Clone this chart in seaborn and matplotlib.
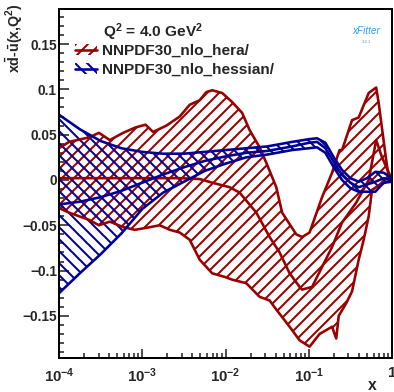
import numpy as np
import pandas as pd
import matplotlib
matplotlib.use("Agg")
import matplotlib.pyplot as plt
import seaborn as sns
from matplotlib.patches import Patch
from matplotlib.lines import Line2D
from matplotlib.ticker import FixedLocator, LogLocator, NullFormatter, MultipleLocator

# ---------------- data ----------------
# NNPDF30_nlo_hera band: upper edge, lower edge, central line (log10 x, value)
hera_up_logx = [-4.00, -3.88, -3.64, -3.52, -3.39, -3.23, -3.08, -2.96, -2.87, -2.71,
                -2.55, -2.43, -2.31, -2.23, -2.16, -2.04, -1.92, -1.80, -1.71, -1.59,
                -1.51, -1.39, -1.32, -1.15, -1.08, -0.99, -0.84, -0.72, -0.63, -0.60,
                -0.48, -0.40, -0.28, -0.19, -0.16, -0.07, -0.04, 0.00]
hera_up = [0.035, 0.042, 0.047, 0.052, 0.044, 0.052, 0.058, 0.061, 0.053, 0.060,
           0.070, 0.083, 0.088, 0.097, 0.099, 0.096, 0.086, 0.074, 0.055, 0.036,
           0.019, -0.008, -0.036, -0.060, -0.063, -0.058, -0.019, 0.008, 0.033, 0.033,
           0.066, 0.069, 0.096, 0.102, 0.085, 0.022, 0.003, 0.000]

hera_lo_logx = [-4.00, -3.88, -3.64, -3.52, -3.39, -3.23, -3.09, -2.96, -2.79, -2.67,
                -2.55, -2.43, -2.31, -2.16, -2.01, -1.92, -1.75, -1.59, -1.47, -1.39,
                -1.23, -1.11, -0.99, -0.87, -0.72, -0.67, -0.64, -0.55, -0.48, -0.40,
                -0.34, -0.28, -0.24, -0.16, -0.04, 0.00]
hera_lo = [-0.031, -0.036, -0.044, -0.050, -0.046, -0.052, -0.055, -0.053, -0.050, -0.055,
           -0.058, -0.066, -0.088, -0.103, -0.107, -0.110, -0.114, -0.129, -0.133, -0.143,
           -0.162, -0.177, -0.184, -0.170, -0.162, -0.175, -0.150, -0.136, -0.123, -0.088,
           -0.066, -0.040, -0.011, -0.006, -0.001, 0.000]

hera_c_logx = [-4.00, -3.50, -3.00, -2.55, -2.31, -2.16, -1.95, -1.83, -1.63, -1.47,
               -1.35, -1.23, -1.11, -1.08, -0.96, -0.84, -0.72, -0.60, -0.43, -0.28,
               -0.19, -0.12, 0.00]
hera_c = [0.002, 0.002, 0.002, 0.002, 0.001, -0.003, -0.008, -0.014, -0.036, -0.063,
          -0.080, -0.103, -0.118, -0.121, -0.118, -0.096, -0.074, -0.047, -0.025, 0.000,
          0.044, 0.025, 0.000]

# NNPDF30_nlo_hessian band
hess_logx = [-4.00, -3.75, -3.50, -3.25, -3.00, -2.75, -2.50, -2.25, -2.00, -1.75,
             -1.50, -1.20, -1.00, -0.90, -0.80, -0.70, -0.60, -0.50, -0.40, -0.30,
             -0.20, -0.10, 0.00]
hess_up = [0.072, 0.056, 0.043, 0.035, 0.031, 0.029, 0.029, 0.031, 0.033, 0.035,
           0.037, 0.042, 0.045, 0.046, 0.041, 0.025, 0.011, 0.002, -0.002, 0.002,
           0.009, 0.008, 0.002]
hess_c = [-0.027, -0.024, -0.019, -0.012, -0.003, 0.006, 0.014, 0.021, 0.026, 0.030,
          0.032, 0.037, 0.041, 0.042, 0.035, 0.020, 0.0055, -0.003, -0.008, -0.005,
          -0.002, 0.002, 0.000]
hess_lo = [-0.125, -0.103, -0.082, -0.059, -0.032, -0.014, -0.002, 0.010, 0.018, 0.025,
           0.028, 0.033, 0.035, 0.036, 0.030, 0.014, 0.000, -0.009, -0.013, -0.013,
           -0.013, -0.003, -0.002]

x_ticks = [1e-4, 1e-3, 1e-2, 1e-1, 1.0]
x_ticklabels = [r"$10^{-4}$", r"$10^{-3}$", r"$10^{-2}$", r"$10^{-1}$", "1"]
y_ticks = [-0.15, -0.1, -0.05, 0.0, 0.05, 0.1, 0.15]
y_ticklabels = ["\u22120.15", "\u22120.1", "\u22120.05", "0", "0.05", "0.1", "0.15"]
series_labels = ["NNPDF30_nlo_hera/", "NNPDF30_nlo_hessian/"]
header_text = r"Q$^{2}$ = 4.0 GeV$^{2}$"
ylabel_text = r"x$\bar{\mathrm{d}}$-$\bar{\mathrm{u}}$(x,Q$^{2}$)"
xlabel_text = "x"

RED = "#990000"
BLUE = "#000099"

# ---------------- figure ----------------
DPI = 72
W, H = 394, 392
PT = 72.0 / DPI  # points per pixel

sns.set_theme(style="ticks")
plt.rcParams.update({
    "font.family": ["Liberation Sans", "DejaVu Sans"],
    "font.weight": "bold",
    "mathtext.fontset": "custom",
    "mathtext.rm": "Liberation Sans:bold",
    "mathtext.it": "Liberation Sans:bold",
    "mathtext.bf": "Liberation Sans:bold",
    "mathtext.sf": "Liberation Sans:bold",
    "hatch.linewidth": 2.0 * PT,
    "axes.linewidth": 2.0 * PT,
    "axes.edgecolor": "black",
    "xtick.direction": "in",
    "ytick.direction": "in",
})

fig = plt.figure(figsize=(W / DPI, H / DPI), dpi=DPI)
fig.patch.set_facecolor("white")
L, R, T, B = 59, 392, 9, 358
ax = fig.add_axes([L / W, 1 - B / H, (R - L) / W, (B - T) / H])
ax.set_facecolor("white")

RED_HATCH = "//"
BLUE_HATCH = "\\\\"


def band(logx_up, up, logx_lo, lo, color, hatch):
    xu = 10 ** np.asarray(logx_up)
    xl = 10 ** np.asarray(logx_lo)
    ax.fill(np.r_[xu, xl[::-1]], np.r_[up, lo[::-1]], facecolor="none",
            edgecolor=color, hatch=hatch, linewidth=0, zorder=2)


band(hera_up_logx, np.array(hera_up), hera_lo_logx, np.array(hera_lo), RED, RED_HATCH)
band(hess_logx, np.array(hess_up), hess_logx, np.array(hess_lo), BLUE, BLUE_HATCH)

lw = 2.6 * PT
for lx, v, c in [(hera_up_logx, hera_up, RED), (hera_lo_logx, hera_lo, RED),
                 (hera_c_logx, hera_c, RED),
                 (hess_logx, hess_up, BLUE), (hess_logx, hess_lo, BLUE),
                 (hess_logx, hess_c, BLUE)]:
    df = pd.DataFrame({"x": 10 ** np.asarray(lx), "y": v})
    sns.lineplot(data=df, x="x", y="y", color=c, lw=lw, sort=False,
                 estimator=None, ax=ax, zorder=3)

ax.set_xscale("log")
ax.set_xlim(1e-4, 1.0)
ax.set_ylim(-0.1965, 0.1887)
ax.set_xlabel("")
ax.set_ylabel("")

ax.xaxis.set_major_locator(FixedLocator(x_ticks))
ax.set_xticklabels(x_ticklabels)
ax.xaxis.set_minor_locator(LogLocator(base=10, subs=np.arange(2, 10)))
ax.xaxis.set_minor_formatter(NullFormatter())
ax.yaxis.set_major_locator(FixedLocator(y_ticks))
ax.set_yticklabels(y_ticklabels)
ax.yaxis.set_minor_locator(MultipleLocator(0.01))

ax.tick_params(axis="x", which="major", length=9 * PT, width=1.6 * PT,
               labelsize=15.0 * PT, pad=8 * PT)
ax.tick_params(axis="x", which="minor", length=5 * PT, width=1.6 * PT)
ax.tick_params(axis="y", which="major", length=10 * PT, width=1.6 * PT,
               labelsize=13.75 * PT, pad=2 * PT)
ax.tick_params(axis="y", which="minor", length=5 * PT, width=1.6 * PT)
ax.tick_params(top=False, right=False, which="both")
for s in ax.spines.values():
    s.set_visible(True)
    s.set_linewidth(2.0 * PT)
    s.set_zorder(5)

# header and legend
fig.text(103 / W, 1 - 32 / H, header_text, ha="left", va="center",
         fontsize=15.4 * PT, fontweight="bold")

handles = [
    (Patch(facecolor="none", edgecolor=RED, hatch=RED_HATCH, linewidth=0),
     Line2D([], [], color=RED, lw=lw)),
    (Patch(facecolor="none", edgecolor=BLUE, hatch=BLUE_HATCH, linewidth=0),
     Line2D([], [], color=BLUE, lw=lw)),
]
ax.legend(handles, series_labels, loc="upper left",
          bbox_to_anchor=(75 / W, 1 - 44 / H), bbox_transform=fig.transFigure,
          frameon=False, fontsize=15.4 * PT, borderpad=0, borderaxespad=0,
          handlelength=1.45, handleheight=0.75, handletextpad=0.28,
          labelspacing=0.33)

# axis titles
fig.text(14 / W, 1 - 3 / H, ylabel_text, rotation=90, ha="center", va="top",
         fontsize=14.2 * PT, fontweight="bold")
fig.text(372 / W, 1 - 386 / H, xlabel_text, ha="center", va="center",
         fontsize=15.8 * PT, fontweight="bold")

# xFitter logo
fig.text(366 / W, 1 - 31 / H, "xFitter", ha="center", va="center",
         fontsize=10 * PT, fontstyle="italic", fontweight="normal",
         color="#3b9de0", family=["Liberation Sans", "DejaVu Sans"])
fig.text(366 / W, 1 - 42 / H, "2.2.1", ha="center", va="center",
         fontsize=4.2 * PT, fontweight="normal", color="#6a8fb0")

fig.savefig("out.png", dpi=DPI, facecolor="white")
